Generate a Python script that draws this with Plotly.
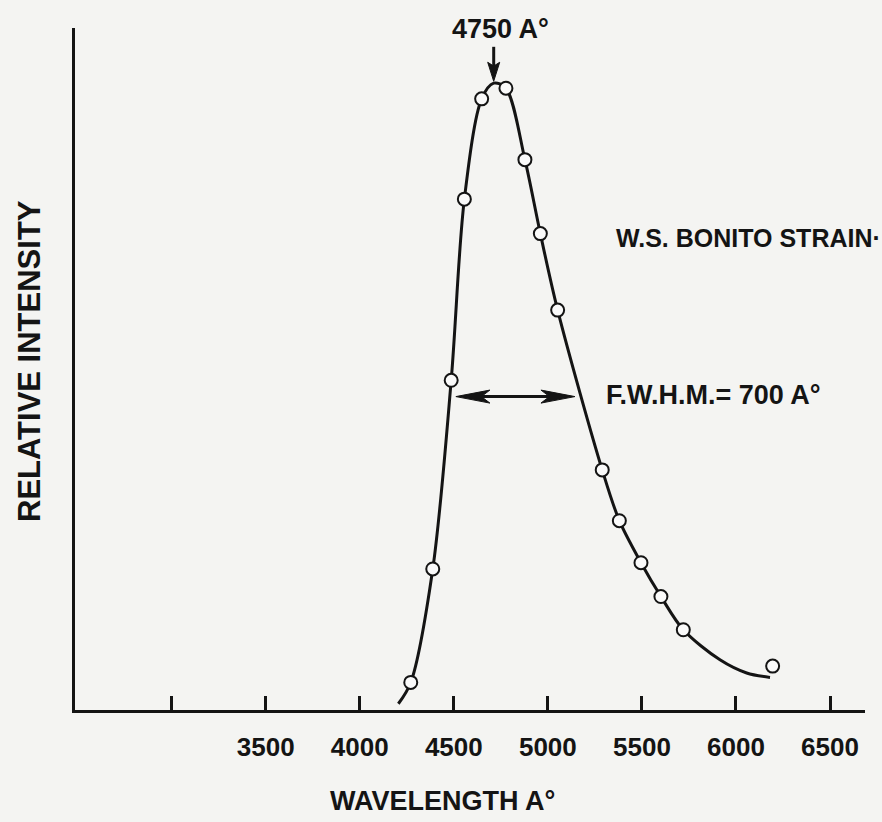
import plotly.graph_objects as go

# ---------------- data ----------------
wavelength = [4271, 4388, 4486, 4556, 4648, 4777, 4878, 4960, 5052,
              5289, 5380, 5495, 5601, 5720, 6195]
intensity = [4.4, 22.5, 52.6, 81.5, 97.5, 99.2, 87.8, 76.0, 63.8,
             38.3, 30.2, 23.5, 18.1, 12.8, 7.0]

curve_wavelength = [4205, 4271, 4388, 4486, 4556, 4648, 4712, 4777, 4878,
                    4960, 5052, 5289, 5380, 5495, 5601, 5720, 5915, 6057, 6181]
curve_intensity = [1.0, 4.4, 22.5, 52.6, 81.5, 97.5, 100.0, 99.2, 87.8,
                   76.0, 63.8, 38.3, 30.2, 23.5, 18.1, 12.8, 8.0, 5.9, 5.2]

tick_values = [3000, 3500, 4000, 4500, 5000, 5500, 6000, 6500]
tick_labels = ["", "3500", "4000", "4500", "5000", "5500", "6000", "6500"]

x_title = "WAVELENGTH A°"
y_title = "RELATIVE INTENSITY"
peak_label = "4750 A°"
strain_label = "W.S. BONITO STRAIN·"
fwhm_label = "F.W.H.M.= 700 A°"

peak_arrow_x = 4712
peak_arrow_tip = 100.3
peak_arrow_tail = 105.8
fwhm_left = 4511
fwhm_right = 5144
half_max = 50.0

# ---------------- layout constants ----------------
W, H = 882, 822
ML, MR, MT, MB = 75, 17, 28, 112
X_RANGE = [2486, 6686]
Y_RANGE = [0, 108.8]
PW, PH = W - ML - MR, H - MT - MB
A_PER_PX = (X_RANGE[1] - X_RANGE[0]) / PW
I_PER_PX = (Y_RANGE[1] - Y_RANGE[0]) / PH

INK = "#141414"
BG = "#f4f4f2"
FONT = "Liberation Sans, Arial, Helvetica, sans-serif"

fig = go.Figure()

fig.add_trace(go.Scatter(
    x=curve_wavelength, y=curve_intensity, mode="lines",
    line=dict(color=INK, width=3, shape="spline", smoothing=0.9),
    hoverinfo="skip", showlegend=False))

fig.add_trace(go.Scatter(
    x=wavelength, y=intensity, mode="markers",
    marker=dict(size=13, color="#fafafa", line=dict(color=INK, width=2)),
    showlegend=False))

shapes = []
# FWHM double arrow
head_len = 34 * A_PER_PX
head_half = 6.5 * I_PER_PX
shapes.append(dict(type="line", xref="x", yref="y",
                   x0=fwhm_left + head_len * 0.7, x1=fwhm_right - head_len * 0.7,
                   y0=half_max, y1=half_max, line=dict(color=INK, width=3)))
for tip, d in ((fwhm_left, 1), (fwhm_right, -1)):
    path = (f"M {tip},{half_max} L {tip + d*head_len},{half_max + head_half} "
            f"L {tip + d*head_len*0.75},{half_max} L {tip + d*head_len},{half_max - head_half} Z")
    shapes.append(dict(type="path", xref="x", yref="y", path=path,
                       fillcolor=INK, line=dict(color=INK, width=1)))

# peak arrow
v_head_len = 19 * I_PER_PX
v_head_half = 6 * A_PER_PX
shapes.append(dict(type="line", xref="x", yref="y",
                   x0=peak_arrow_x, x1=peak_arrow_x,
                   y0=peak_arrow_tail, y1=peak_arrow_tip + v_head_len * 0.8,
                   line=dict(color=INK, width=3)))
path = (f"M {peak_arrow_x},{peak_arrow_tip} "
        f"L {peak_arrow_x - v_head_half},{peak_arrow_tip + v_head_len} "
        f"L {peak_arrow_x},{peak_arrow_tip + v_head_len*0.8} "
        f"L {peak_arrow_x + v_head_half},{peak_arrow_tip + v_head_len} Z")
shapes.append(dict(type="path", xref="x", yref="y", path=path,
                   fillcolor=INK, line=dict(color=INK, width=1)))


def px_x(p):
    return (p - ML) / PW


def px_y(p):
    return (H - MB - p) / PH


def bold(size):
    return dict(family=FONT, size=size, color=INK, weight="bold")


annotations = [
    dict(text=y_title, xref="paper", yref="paper", x=px_x(29), y=px_y(361),
         textangle=-90, showarrow=False, font=bold(31),
         xanchor="center", yanchor="middle"),
    dict(text=x_title, xref="paper", yref="paper", x=px_x(442), y=px_y(801),
         showarrow=False, font=bold(27), xanchor="center", yanchor="middle"),
    dict(text=peak_label, xref="paper", yref="paper", x=px_x(500), y=px_y(29),
         showarrow=False, font=bold(27), xanchor="center", yanchor="middle"),
    dict(text=strain_label, xref="paper", yref="paper", x=px_x(614), y=px_y(238),
         showarrow=False, font=bold(25), xanchor="left", yanchor="middle"),
    dict(text=fwhm_label, xref="paper", yref="paper", x=px_x(604), y=px_y(395),
         showarrow=False, font=bold(27), xanchor="left", yanchor="middle"),
]

fig.update_layout(
    width=W, height=H,
    margin=dict(l=ML, r=MR, t=MT, b=MB, pad=0),
    paper_bgcolor=BG, plot_bgcolor=BG,
    shapes=shapes, annotations=annotations,
    showlegend=False,
    xaxis=dict(range=X_RANGE, showgrid=False, zeroline=False,
               showline=True, linecolor=INK, linewidth=3,
               ticks="inside", ticklen=14, tickwidth=2.5, tickcolor=INK,
               tickvals=tick_values, ticktext=tick_labels,
               tickfont=bold(26), ticklabelstandoff=12),
    yaxis=dict(range=Y_RANGE, showgrid=False, zeroline=False,
               showline=True, linecolor=INK, linewidth=3,
               ticks="", showticklabels=False),
)

fig.write_html("out.html")
